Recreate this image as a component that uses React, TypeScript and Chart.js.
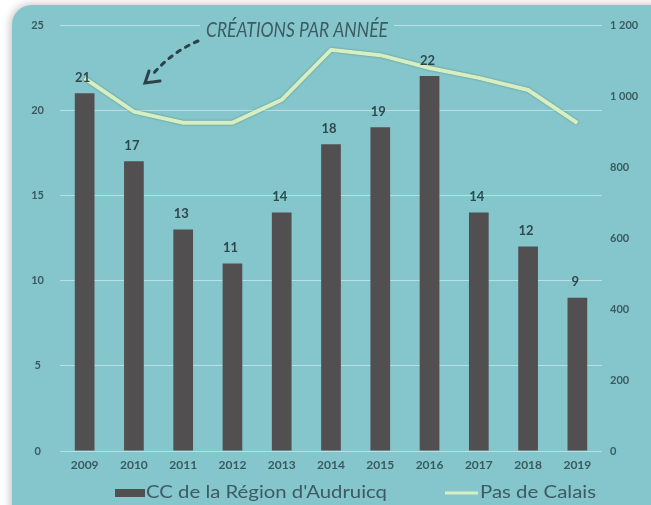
import React, { useEffect, useRef } from 'react';
import { Chart, registerables } from 'chart.js';

Chart.register(...registerables);

const years = ['2009', '2010', '2011', '2012', '2013', '2014', '2015', '2016', '2017', '2018', '2019'];
const creations = [21, 17, 13, 11, 14, 18, 19, 22, 14, 12, 9];
const pasDeCalais = [1050, 956, 925, 925, 989, 1130, 1115, 1079, 1051, 1017, 924];
const barLabel = "CC de la Région d'Audruicq";
const lineLabel = 'Pas de Calais';
const titleText = 'CRÉATIONS PAR ANNÉE';

const TEAL = '#84c6cc';
const INK = '#3a5a60';
const BAR = '#524f50';
const LINE = '#d6efc2';

const fmtSpace = (v: number) => {
  const s = String(Math.round(v));
  return s.length > 3 ? s.slice(0, s.length - 3) + ' ' + s.slice(-3) : s;
};

const backgroundPlugin = {
  id: 'panelBg',
  beforeDraw(chart: any) {
    const { ctx, width, height } = chart;
    ctx.save();
    ctx.fillStyle = '#ffffff';
    ctx.fillRect(0, 0, width, height);
    ctx.shadowColor = 'rgba(0,0,0,0.28)';
    ctx.shadowBlur = 10;
    ctx.shadowOffsetX = -1;
    ctx.shadowOffsetY = 0;
    ctx.fillStyle = TEAL;
    ctx.beginPath();
    (ctx as any).roundRect(12, 5, width + 40, height + 40, 20);
    ctx.fill();
    ctx.restore();
  },
};

const lineShadowPlugin = {
  id: 'lineShadow',
  beforeDatasetDraw(chart: any, args: any) {
    if (args.meta.type === 'line') {
      chart.ctx.save();
      chart.ctx.shadowColor = 'rgba(50,80,50,0.55)';
      chart.ctx.shadowBlur = 2;
    }
  },
  afterDatasetDraw(chart: any, args: any) {
    if (args.meta.type === 'line') chart.ctx.restore();
  },
};

const valueLabelPlugin = {
  id: 'valueLabels',
  afterDatasetsDraw(chart: any) {
    const { ctx } = chart;
    chart.data.datasets.forEach((ds: any, i: number) => {
      if (ds.type !== 'bar') return;
      const meta = chart.getDatasetMeta(i);
      ctx.save();
      ctx.font = 'bold 13px Lato';
      ctx.fillStyle = '#2f484d';
      ctx.textAlign = 'center';
      ctx.textBaseline = 'bottom';
      meta.data.forEach((el: any, j: number) => {
        ctx.fillText(String(ds.data[j]), el.x - 2, el.y - 9);
      });
      ctx.restore();
    });
  },
};

const decorPlugin = {
  id: 'decor',
  afterDraw(chart: any) {
    const { ctx } = chart;
    ctx.save();
    // title
    ctx.font = 'italic 21px Lato';
    const w = ctx.measureText(titleText).width;
    const target = 182;
    const sx = target / w;
    ctx.fillStyle = TEAL;
    ctx.fillRect(200, 18, target + 12, 22);
    ctx.translate(206, 30);
    ctx.scale(sx, 1);
    ctx.fillStyle = '#3d5b61';
    ctx.textAlign = 'left';
    ctx.textBaseline = 'middle';
    ctx.fillText(titleText, 0, 0);
    ctx.restore();

    // dotted arrow
    ctx.save();
    ctx.strokeStyle = '#2c4248';
    ctx.lineWidth = 3;
    ctx.lineCap = 'round';
    ctx.setLineDash([4, 6]);
    ctx.beginPath();
    ctx.moveTo(198, 41);
    ctx.quadraticCurveTo(172, 52, 153, 74);
    ctx.stroke();
    ctx.setLineDash([]);
    ctx.beginPath();
    ctx.moveTo(149, 71);
    ctx.lineTo(145, 83);
    ctx.lineTo(160, 81);
    ctx.stroke();
    ctx.restore();

    // legend
    ctx.save();
    ctx.font = '17px Lato';
    ctx.textBaseline = 'middle';
    ctx.textAlign = 'left';
    ctx.fillStyle = BAR;
    ctx.fillRect(115, 489, 30, 8);
    ctx.fillStyle = '#3d5b61';
    const tw1 = ctx.measureText(barLabel).width;
    ctx.save();
    ctx.translate(146, 493);
    ctx.scale(241 / tw1, 1);
    ctx.fillText(barLabel, 0, 0);
    ctx.restore();
    ctx.strokeStyle = LINE;
    ctx.lineWidth = 3;
    ctx.beginPath();
    ctx.moveTo(445, 493);
    ctx.lineTo(478, 493);
    ctx.stroke();
    const tw2 = ctx.measureText(lineLabel).width;
    ctx.translate(480, 493);
    ctx.scale(116 / tw2, 1);
    ctx.fillText(lineLabel, 0, 0);
    ctx.restore();
  },
};

export default function App() {
  const ref = useRef<HTMLCanvasElement | null>(null);
  useEffect(() => {
    if (!ref.current) return;
    const chart = new Chart(ref.current, {
      data: {
        labels: years,
        datasets: [
          {
            type: 'line',
            label: lineLabel,
            data: pasDeCalais,
            yAxisID: 'y1',
            borderColor: LINE,
            backgroundColor: LINE,
            borderWidth: 4,
            pointRadius: 0,
            tension: 0,
            order: 0,
          },
          {
            type: 'bar',
            label: barLabel,
            data: creations,
            yAxisID: 'y',
            backgroundColor: BAR,
            categoryPercentage: 0.8,
            barPercentage: 0.5,
            order: 1,
          },
        ],
      } as any,
      options: {
        responsive: false,
        devicePixelRatio: 1,
        animation: false,
        layout: { padding: { top: 25, bottom: 30, left: 0, right: 0 } },
        plugins: {
          legend: { display: false },
          tooltip: { enabled: false },
        },
        scales: {
          x: {
            grid: { display: false, drawTicks: false },
            border: { display: false },
            ticks: { color: INK, font: { family: 'Lato', size: 12, weight: 'bold' }, padding: 7 },
            afterFit: (s: any) => { s.height = 24; },
          },
          y: {
            position: 'left',
            min: 0,
            max: 25,
            ticks: {
              stepSize: 5,
              color: INK,
              font: { family: 'Lato', size: 11, weight: 'bold' },
              padding: 16,
              crossAlign: 'center',
            },
            grid: { color: 'rgba(255,255,255,0.45)', lineWidth: 1, drawTicks: false },
            border: { display: false },
            afterFit: (s: any) => { s.width = 60; },
          },
          y1: {
            position: 'right',
            min: 0,
            max: 1200,
            ticks: {
              stepSize: 200,
              color: INK,
              font: { family: 'Lato', size: 11, weight: 'bold' },
              padding: 8,
              callback: (v: any) => fmtSpace(Number(v)),
            },
            grid: { display: false, drawTicks: false },
            border: { display: false },
            afterFit: (s: any) => { s.width = 49; },
          },
        },
      } as any,
      plugins: [backgroundPlugin, lineShadowPlugin, valueLabelPlugin, decorPlugin],
    });
    return () => chart.destroy();
  }, []);
  return (
    <div style={{ position: 'fixed', left: 0, top: 0, width: 651, height: 505 }}>
      <canvas ref={ref} width={651} height={505} style={{ width: 651, height: 505, display: 'block' }} />
    </div>
  );
}
